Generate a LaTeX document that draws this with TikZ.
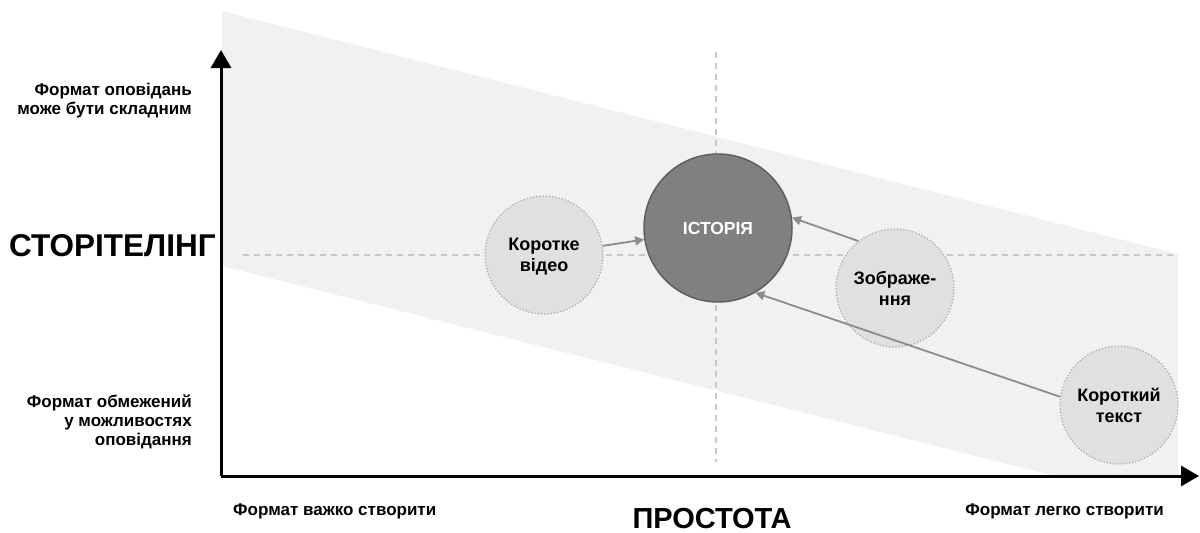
\documentclass[tikz,border=0pt]{standalone}
\usepackage{fontspec}
\setmainfont{Liberation Sans}
\usetikzlibrary{arrows.meta}
\definecolor{band}{HTML}{F1F1F1}
\definecolor{smallfill}{HTML}{E0E0E0}
\definecolor{smallline}{HTML}{A8A8A8}
\definecolor{bigfill}{HTML}{808080}
\definecolor{bigline}{HTML}{606060}
\definecolor{guide}{HTML}{C8C8C8}
\definecolor{link}{HTML}{8C8C8C}
\tikzset{
  smallc/.style={circle, fill=smallfill, draw=smallline, line width=1.2pt, dotted, minimum size=#1, inner sep=0pt, align=center, font=\fontsize{18}{21}\selectfont\bfseries},
  bigc/.style={circle, fill=bigfill, draw=bigline, line width=1.5pt, minimum size=148pt, inner sep=0pt, text=white, font=\fontsize{17.5}{21}\selectfont\bfseries},
  guideline/.style={guide, line width=1.5pt, dash pattern=on 6pt off 5pt},
  linkarrow/.style={link, line width=1.8pt, -{Triangle[length=9pt,width=9pt]}},
  axis/.style={black, line width=3pt, -{Triangle[length=18pt,width=20pt]}},
  lab/.style={font=\fontsize{17}{19}\selectfont\bfseries, inner sep=0pt},
  biglab/.style={font=\fontsize{31.5}{36}\selectfont\bfseries, inner sep=0pt}
}
\begin{document}
\begin{tikzpicture}[x=1pt,y=-1pt]
\useasboundingbox (0,0) rectangle (1200,533);
% band
\fill[band] (222,11) -- (1178,254) -- (1178,476) -- (1055,476) -- (222,266) -- cycle;
% guides
\coordinate (vtop) at (716,52);
\coordinate (vbot) at (716,462);
\coordinate (hl) at (243,255);
\coordinate (hr) at (1178,255);
\draw[guideline] (vtop) -- (vbot);
\draw[guideline] (hl) -- (hr);
% axes
\coordinate (o) at (221,476);
\coordinate (ytip) at (221,50);
\coordinate (xtip) at (1199,476);
\draw[axis] (o) -- (ytip);
\draw[axis] (o) -- (xtip);
% circles
\node[smallc=118pt, text depth=-3pt] (video) at (544,255) {Коротке\\відео};
\node[smallc=118pt, text depth=-3pt] (img) at (895,288) {Зображе-\\ння};
\node[smallc=118pt] (text) at (1119,405) {Короткий\\текст};
\node[bigc] (story) at (718,228) {ІСТОРІЯ};
% links
\draw[linkarrow] (video) -- (story);
\draw[linkarrow] (img.128) -- (story.8);
\draw[linkarrow] (text.172) -- (story.-60);
% labels
\node[lab, anchor=east, align=right] (ytop) at (192,101) {Формат оповідань\\може бути складним};
\node[lab, anchor=east, align=right] (ybot) at (192,422) {Формат обмежений\\у можливостях\\оповідання};
\node[biglab, anchor=west] (ylab) at (9,246) {СТОРІТЕЛІНГ};
\node[lab, anchor=west] (xl) at (233,511) {Формат важко створити};
\node[lab, anchor=east] (xr) at (1164,511) {Формат легко створити};
\node[biglab, font=\fontsize{29}{33}\selectfont\bfseries, anchor=base] (xlab) at (712,528) {ПРОСТОТА};
\end{tikzpicture}
\end{document}
